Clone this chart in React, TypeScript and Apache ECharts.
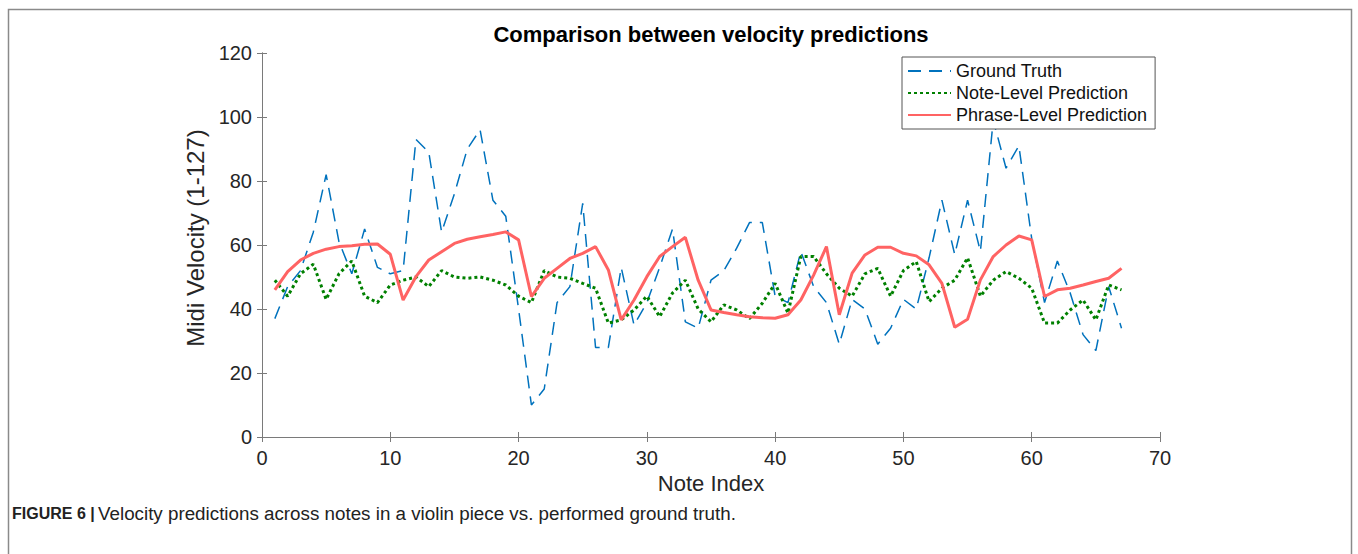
import React, { useEffect, useRef } from "react";
import * as echarts from "echarts";

const title = "Comparison between velocity predictions";
const xName = "Note Index";
const yName = "Midi Velocity (1-127)";
const seriesNames = ["Ground Truth", "Note-Level Prediction", "Phrase-Level Prediction"];
const captionLead = "FIGURE 6 |";
const caption = "Velocity predictions across notes in a violin piece vs. performed ground truth.";

const groundTruth = [37, 47, 52, 64, 82, 61, 51, 65, 53, 51, 52, 93, 89, 64, 76, 90, 96, 74, 69, 40, 10, 15, 42, 47, 73, 28, 28, 53, 35, 42, 53, 65, 36, 34, 49, 52, 59, 67, 67, 44, 42, 58, 47, 42, 29, 43, 40, 29, 34, 43, 40, 56, 74, 57, 74, 58, 99, 84, 91, 62, 42, 55, 45, 32, 27, 47, 34];
const noteLevel = [49, 44, 51, 54, 43, 51, 55, 44, 42, 47.5, 49, 50, 47, 52, 50, 49.6, 50, 49, 47.5, 44, 42, 52, 50, 49.6, 48, 46.5, 35.6, 36.6, 39.7, 44, 37.6, 45, 49, 40, 36, 41.3, 39.7, 37, 41.8, 48, 38.7, 56.4, 56.4, 51, 46.5, 44, 51, 52.7, 44, 52, 54.8, 42.3, 46.5, 49, 56, 44, 49, 51.7, 49.6, 46.5, 35.6, 35.6, 39.7, 42.8, 36.6, 47.5, 46];
const phraseLevel = [46, 51.7, 55.3, 57.4, 58.7, 59.5, 59.8, 60.2, 60.3, 57.1, 42.8, 50.1, 55.3, 57.9, 60.5, 61.8, 62.6, 63.3, 64.1, 61.6, 43.9, 49.6, 52.7, 55.8, 57.4, 59.5, 52.2, 36.6, 42.8, 50.1, 56.4, 59.5, 62.4, 49, 39.7, 38.9, 38.2, 37.6, 37.3, 37.1, 38.2, 42.8, 50.6, 59.5, 38.2, 51.2, 56.9, 59.3, 59.3, 57.4, 56.6, 53.8, 48, 34.3, 36.8, 49.1, 56.4, 60, 62.8, 61.6, 43.9, 46, 46.5, 47.5, 48.6, 49.6, 52.7];

const toPairs = (arr: number[]) => arr.map((v, k) => [k + 1, v]);

export default function App() {
  const ref = useRef<HTMLDivElement>(null);
  useEffect(() => {
    document.body.style.margin = "0";
    const chart = echarts.init(ref.current!, undefined, { renderer: "svg" });
    const font = "Liberation Sans, Arial, Helvetica, sans-serif";
    const axisColor = "#7a7a7a";
    const labelColor = "#262626";
    const hiddenAxis = {
      axisLine: { show: true, lineStyle: { color: axisColor, width: 1 } },
      axisTick: { show: true, inside: true, length: 5, lineStyle: { color: axisColor } },
      axisLabel: { show: false },
      splitLine: { show: false },
    };
    chart.setOption({
      animation: false,
      backgroundColor: "#ffffff",
      textStyle: { fontFamily: font },
      title: {
        text: title,
        left: 706,
        top: 18,
        textAlign: "center",
        textStyle: { fontSize: 22, fontWeight: "bold", color: "#000", fontFamily: font },
      },
      grid: { left: 262, right: 198, top: 53, bottom: 117, containLabel: false },
      legend: {
        orient: "vertical",
        left: 902,
        top: 57,
        backgroundColor: "#ffffff",
        borderColor: "#555",
        borderWidth: 1,
        padding: [5, 8, 5, 5],
        itemWidth: 43,
        itemHeight: 18,
        itemGap: 4,
        itemStyle: { opacity: 0 },
        textStyle: { fontSize: 18, color: "#111", fontFamily: font },
        data: seriesNames,
      },
      xAxis: [
        {
          type: "value",
          min: 0,
          max: 70,
          interval: 10,
          position: "bottom",
          name: xName,
          nameLocation: "middle",
          nameGap: 34,
          nameTextStyle: { fontSize: 22, color: labelColor, fontFamily: font },
          axisLine: { show: true, lineStyle: { color: axisColor, width: 1 } },
          axisTick: { show: true, inside: true, length: 5, lineStyle: { color: axisColor } },
          axisLabel: { fontSize: 20, color: labelColor, margin: 11, fontFamily: font },
          splitLine: { show: false },
        },
        { type: "value", min: 0, max: 70, interval: 10, position: "top", ...hiddenAxis },
      ],
      yAxis: [
        {
          type: "value",
          min: 0,
          max: 120,
          interval: 20,
          position: "left",
          name: yName,
          nameLocation: "middle",
          nameGap: 41,
          nameTextStyle: { fontSize: 24, color: labelColor, fontFamily: font, padding: [0, 0, 0, 14] },
          axisLine: { show: true, lineStyle: { color: axisColor, width: 1 } },
          axisTick: { show: true, inside: true, length: 5, lineStyle: { color: axisColor } },
          axisLabel: { fontSize: 20, color: labelColor, margin: 10, fontFamily: font },
          splitLine: { show: false },
        },
        { type: "value", min: 0, max: 120, interval: 20, position: "right", ...hiddenAxis },
      ],
      series: [
        {
          name: seriesNames[0],
          type: "line",
          data: toPairs(groundTruth),
          symbol: "none",
          lineStyle: { color: "#0072BD", width: 1.5, type: [13, 8] },
          itemStyle: { color: "#0072BD" },
          z: 2,
        },
        {
          name: seriesNames[1],
          type: "line",
          data: toPairs(noteLevel),
          symbol: "none",
          lineStyle: { color: "#008000", width: 3, type: [3, 3] },
          itemStyle: { color: "#008000" },
          z: 3,
        },
        {
          name: seriesNames[2],
          type: "line",
          data: toPairs(phraseLevel),
          symbol: "none",
          lineStyle: { color: "#FF6363", width: 3, type: "solid" },
          itemStyle: { color: "#FF6363" },
          z: 4,
        },
      ],
      graphic: [
        {
          type: "rect",
          shape: { x: 8.5, y: 9.5, width: 1343, height: 620 },
          style: { fill: "none", stroke: "#8a8a8a", lineWidth: 1.5 },
          silent: true,
        },
        {
          type: "text",
          left: 12,
          top: 504,
          style: {
            text: "{b|" + captionLead + "} {r|" + caption + "}",
            rich: {
              b: { fontSize: 16, fontWeight: "bold", fill: "#222", fontFamily: font },
              r: { fontSize: 18.8, fill: "#222", fontFamily: font },
            },
          },
        },
      ],
    });
    return () => chart.dispose();
  }, []);
  return <div ref={ref} style={{ width: 1358, height: 554 }} />;
}
